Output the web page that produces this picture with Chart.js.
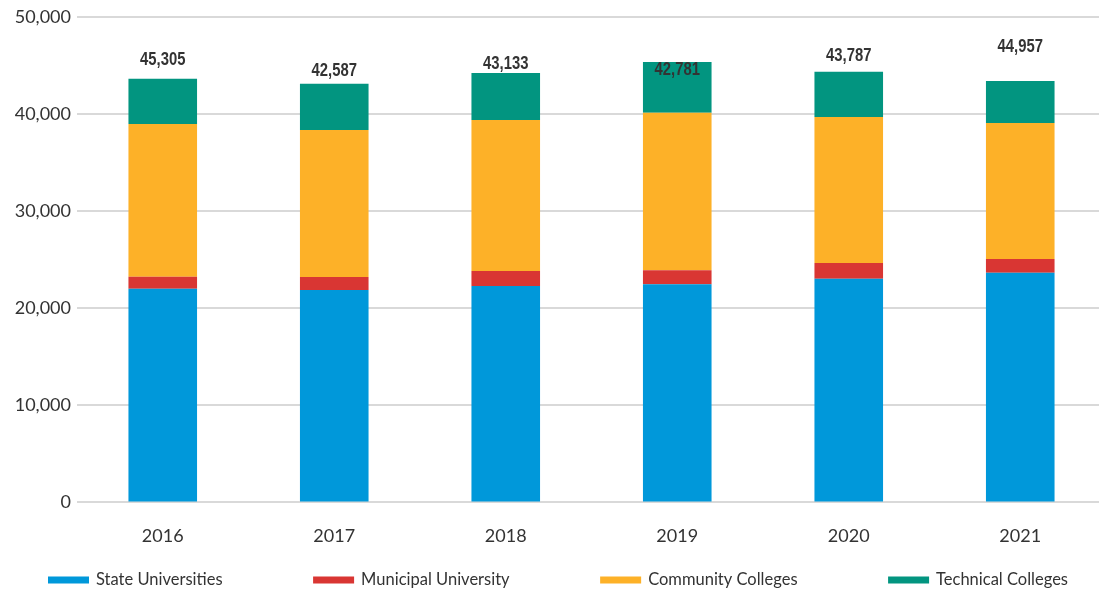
<!DOCTYPE html>
<html>
<head>
<meta charset="utf-8">
<script src="https://cdn.jsdelivr.net/npm/chart.js@4/dist/chart.umd.min.js"></script>
<style>
  html, body { margin: 0; padding: 0; background: #fff; overflow: hidden; }
  #wrap { width: 1107px; height: 595px; position: relative; }
</style>
</head>
<body>
<div id="wrap"><canvas id="chart"></canvas></div>
<script>
// --- data ---
const years = ['2016', '2017', '2018', '2019', '2020', '2021'];
const stateUniv = [21990, 21860, 22270, 22470, 23020, 23640];
const municipalUniv = [1240, 1340, 1545, 1445, 1620, 1410];
const communityColleges = [15740, 15155, 15565, 16215, 15050, 14020];
const technicalColleges = [4640, 4740, 4845, 5225, 4640, 4330];
// totals printed above the bars, and the height (in axis units) they sit at
const totalLabels = [45305, 42587, 43133, 42781, 43787, 44957];
const totalLabelPos = [45570, 44430, 45120, 44540, 45980, 46900];
const yTicks = [0, 10000, 20000, 30000, 40000, 50000];

const TEXT = '#333333';
const FONT = 'Lato, "Noto Sans", sans-serif';

// labels on top of each stack (condensed look by squeezing a bold sans)
const totalsPlugin = {
    id: 'totals',
    afterDatasetsDraw(chart) {
        const ctx = chart.ctx;
        const yScale = chart.scales.y;
        const meta = chart.getDatasetMeta(chart.data.datasets.length - 1);
        const sx = 0.78;
        ctx.save();
        ctx.font = 'bold 19px "Liberation Sans", Arial, sans-serif';
        ctx.fillStyle = TEXT;
        ctx.textAlign = 'center';
        ctx.textBaseline = 'middle';
        meta.data.forEach((bar, i) => {
            const y = yScale.getPixelForValue(totalLabelPos[i]);
            ctx.save();
            ctx.translate(bar.x, y);
            ctx.scale(sx, 1);
            ctx.fillText(totalLabels[i].toLocaleString('en-US'), 0, 0);
            ctx.restore();
        });
        ctx.restore();
    }
};

// bottom legend spread across the width like the original
const legendPlugin = {
    id: 'bottomLegend',
    afterDraw(chart) {
        const ctx = chart.ctx;
        const boxW = 41, boxH = 7, textGap = 7;
        const left = 48, right = 1068, y = 580;
        ctx.save();
        ctx.font = '16.5px ' + FONT;
        ctx.textBaseline = 'middle';
        const items = chart.data.datasets.map(ds => ({
            label: ds.label,
            color: ds.backgroundColor,
            w: boxW + textGap + ctx.measureText(ds.label).width
        }));
        const used = items.reduce((s, it) => s + it.w, 0);
        const gap = (right - left - used) / (items.length - 1);
        let x = left;
        items.forEach(it => {
            ctx.fillStyle = it.color;
            ctx.fillRect(x, y - boxH / 2, boxW, boxH);
            ctx.fillStyle = TEXT;
            ctx.fillText(it.label, x + boxW + textGap, y);
            x += it.w + gap;
        });
        ctx.restore();
    }
};

const ctx = document.getElementById('chart').getContext('2d');
new Chart(ctx, {
    type: 'bar',
    data: {
        labels: years,
        datasets: [
            { label: 'State Universities', data: stateUniv, backgroundColor: '#0098da' },
            { label: 'Municipal University', data: municipalUniv, backgroundColor: '#d93633' },
            { label: 'Community Colleges', data: communityColleges, backgroundColor: '#fdb128' },
            { label: 'Technical Colleges', data: technicalColleges, backgroundColor: '#029580' }
        ]
    },
    options: {
        responsive: true,
        maintainAspectRatio: false,
        animation: false,
        layout: { padding: { top: 16, right: 1, bottom: 25, left: 0 } },
        datasets: {
            bar: { barPercentage: 0.4, categoryPercentage: 1.0, borderWidth: 0 }
        },
        plugins: {
            legend: { display: false },
            tooltip: { enabled: false }
        },
        scales: {
            x: {
                stacked: true,
                grid: { display: false, drawTicks: false },
                border: { display: false },
                ticks: { color: TEXT, font: { family: FONT, size: 18 }, padding: 23 }
            },
            y: {
                stacked: true,
                min: 0,
                max: 50000,
                afterFit(scale) { scale.width = 77; },
                afterBuildTicks(scale) { scale.ticks = yTicks.map(v => ({ value: v })); },
                grid: { color: '#d9d9d9', lineWidth: 2, drawTicks: false },
                border: { display: false },
                ticks: {
                    color: TEXT,
                    font: { family: FONT, size: 18 },
                    padding: 6,
                    callback: v => v.toLocaleString('en-US')
                }
            }
        }
    },
    plugins: [totalsPlugin, legendPlugin]
});
</script>
</body>
</html>
